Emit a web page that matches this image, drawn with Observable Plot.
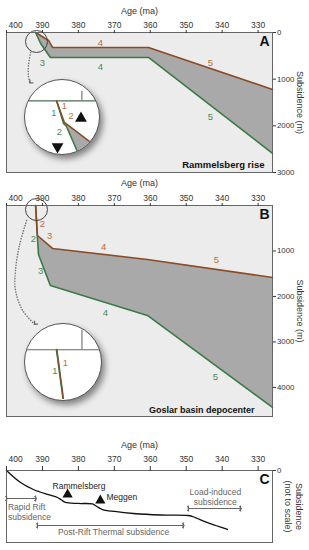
<!DOCTYPE html>
<html><head><meta charset="utf-8">
<script src="https://cdn.jsdelivr.net/npm/d3@7"></script>
<script src="https://cdn.jsdelivr.net/npm/@observablehq/plot@0.6"></script>
<style>
html,body{margin:0;padding:0;background:#fff;}
#root{position:relative;width:309px;height:550px;overflow:hidden;font-family:"Liberation Sans",Arial,sans-serif;}
.inset{position:absolute;box-sizing:border-box;border-radius:50%;overflow:hidden;border:1px solid #555;background:#fff;box-shadow:3px 4px 6px rgba(0,0,0,0.45);}
</style></head><body><div id="root"></div>
<script>
// ---------- shared ----------
const ageTitle = "Age (ma)";
const depthTitle = "Subsidence (m)";
const ageFirstTick = [400];
const ageTicks = [390, 380, 370, 360, 350, 340, 330];
const ageDomain = [400, 326];

// ---------- Panel A : Rammelsberg rise ----------
const aTopAge   = [391.9, 388.3, 387.2, 360.5, 326];
const aTopDepth = [0, 171, 321, 321, 1220];
const aBaseAge   = [391.9, 390.5, 387.8, 360.5, 326];
const aBaseDepth = [0, 235, 535, 535, 2590];
const aDepthTicks = [0, 1000, 2000, 3000];
const aTopLabAge = [373.9, 343.3], aTopLabDepth = [214, 642], aTopLabText = ["4", "5"];
const aBaseLabAge = [390.0, 373.9, 343.3], aBaseLabDepth = [642, 728, 1820], aBaseLabText = ["3", "4", "5"];
const aMarkAge = [391.65], aMarkDepth = [193];
const aArrowAge = [393.3, 393.9, 393.9, 393.5], aArrowDepth = [428, 707, 921, 1080];
const aName = "Rammelsberg rise";

// inset A (magnified start)
const iaTopAge = [392, 391.14, 388.44, 386.93], iaTopDepth = [0, 232, 432, 547];
const iaBaseAge = [392, 391.24, 390.92, 389.5], iaBaseDepth = [0, 242, 274, 590];
const iaLabAge = [391.14, 390.4, 392.3, 391.7], iaLabDepth = [53, 158, 126, 337];
const iaLabText = ["1", "2", "1", "2"], iaLabSeries = ["top", "top", "base", "base"];
const iaTriAge = [389.3, 391.9], iaTriDepth = [189, 495], iaTriRot = [0, 180];
const iaTickAge = [389.2], iaTickTop = [-105];

// ---------- Panel B : Goslar basin depocenter ----------
const bTopAge   = [391.9, 391.4, 387.2, 360.8, 326];
const bTopDepth = [0, 660, 945, 1187, 1582];
const bBaseAge   = [391.9, 391.4, 391.1, 387.8, 360.8, 326];
const bBaseDepth = [0, 703, 1077, 1758, 2418, 4440];
const bDepthTicks = [1000, 2000, 3000, 4000];
const bTopLabAge = [390.0, 388.0, 373.0, 341.6], bTopLabDepth = [396, 659, 901, 1187], bTopLabText = ["2", "3", "4", "5"];
const bBaseLabAge = [392.5, 390.5, 372.5, 341.9], bBaseLabDepth = [725, 1429, 2352, 3780], bBaseLabText = ["2", "3", "4", "5"];
const bMarkAge = [391.65], bMarkDepth = [88];
const bArrowAge = [394.4, 396.4, 397.5, 397.5, 395.5, 392.2], bArrowDepth = [330, 879, 1429, 1868, 2308, 2610];
const bName = "Goslar basin depocenter";

// inset B
const ibAge = [392, 391.78, 391.57, 391.35, 391.24], ibDepth = [0, 158, 316, 474, 579];
const ibLabAge = [391.03, 392.2], ibLabDepth = [147, 232], ibLabText = ["1", "1"], ibLabSeries = ["top", "base"];
const ibTickAge = [389.2], ibTickTop = [-210];

// ---------- Panel C : schematic ----------
const cAge = [400, 396.1, 392.5, 388.6, 385.8, 384.7, 383.6, 380.0, 376.1, 374.9, 373.3, 369.9, 364.7, 357.2, 349.4, 347.5, 344.6, 341.8, 338.5];
const cSub = [0, 16.7, 26.4, 33.3, 37.5, 41.0, 44.4, 45.8, 46.5, 50.0, 54.2, 56.9, 59.7, 61.8, 62.5, 65.3, 71.5, 76.4, 81.9];
const intStart = [400, 391.4, 349.4];
const intEnd   = [391.9, 350.8, 334.9];
const intLevel = [38.9, 76.4, 52.8];
const leftNoteText = ["Rapid Rift", "subsidence"], leftNoteAge = [399.6, 399.6], leftNoteSub = [50.5, 64.5];
const midNoteText = ["Post-Rift Thermal subsidence", "Load-induced", "subsidence"];
const midNoteAge = [370.2, 341.9, 341.9], midNoteSub = [86.1, 30.0, 43.5];
const eventName = ["Rammelsberg", "Meggen"];
const eventLabAge = [387.2, 372.2], eventLabSub = [22.2, 37.5];
const eventAge = [383.0, 373.9], eventSub = [33.3, 41.7];
const cTicks = [0];
const cTitle1 = "Subsidence", cTitle2 = "(not to scale)";

// ---------- style ----------
const FONT = '"Liberation Sans", Arial, sans-serif';
const BROWN = "#8a4b25", GREEN = "#3b7a46", BROWN_T = "#b8703c", GREEN_T = "#4a8a5a";
const FILL = "#a9a9a9", BG = "#ececec", FRAME = "#666", DOT = "#777";

const pts = (xs, ys, extra) => xs.map((x, i) => Object.assign({x, y: ys[i]}, extra ? extra(i) : {}));
const baseStyle = {fontFamily: FONT, background: "transparent", color: "#333", overflow: "visible"};
// open "L"-shaped arrow head like the reference
const headSymbol = {draw(ctx, size) { const r = Math.sqrt(size / Math.PI); ctx.moveTo(0, -r); ctx.lineTo(0, 0); ctx.lineTo(r, 0); }};

function topAxis(tickSize, tickPadding, titleDy) {
  return [
    Plot.axisX({anchor: "top", ticks: [...ageFirstTick, ...ageTicks], tickSize, tickPadding, label: null, fontSize: 8.5,
      tickFormat: d => ageFirstTick.includes(d) ? "" : String(d)}),
    Plot.text(ageFirstTick, {x: d => d, frameAnchor: "top", dy: -(tickSize + tickPadding), lineAnchor: "bottom",
      textAnchor: "start", dx: 2, text: d => String(d), fontSize: 8.5, fill: "#333"}),
    Plot.text([ageTitle], {frameAnchor: "top", lineAnchor: "middle", textAnchor: "middle", dy: titleDy, fontSize: 9, fill: "#333"})
  ];
}
function rightAxis(ticks, titleDx) {
  return [
    Plot.axisY({anchor: "right", ticks, tickSize: 3, tickPadding: 1.5, label: null, fontSize: 7.8, tickFormat: d => String(d)}),
    Plot.text([depthTitle], {frameAnchor: "right", rotate: 90, dx: titleDx, fontSize: 9, textAnchor: "middle", lineAnchor: "middle", fill: "#333"})
  ];
}
function profileMarks(topAge, topDepth, baseAge, baseDepth, topLab, baseLab, mark, arrow) {
  const poly = [...pts(topAge, topDepth), ...pts(baseAge, baseDepth).reverse()];
  return [
    Plot.frame({fill: BG, stroke: "none"}),
    Plot.line(poly, {x: "x", y: "y", fill: FILL, stroke: "none"}),
    Plot.line(pts(baseAge, baseDepth), {x: "x", y: "y", stroke: GREEN, strokeWidth: 1.6}),
    Plot.line(pts(topAge, topDepth), {x: "x", y: "y", stroke: BROWN, strokeWidth: 1.6}),
    Plot.text(topLab, {x: "x", y: "y", text: "t", fill: BROWN_T, fontSize: 9.5}),
    Plot.text(baseLab, {x: "x", y: "y", text: "t", fill: GREEN_T, fontSize: 9.5}),
    Plot.dot(mark, {x: "x", y: "y", r: 11, stroke: "#444", fill: "none", strokeWidth: 1}),
    Plot.line(arrow, {x: "x", y: "y", curve: "catmull-rom", stroke: DOT, strokeWidth: 1.6, strokeDasharray: "0.1,2.6", strokeLinecap: "round"}),
    Plot.dot(arrow.slice(-1), {x: "x", y: "y", symbol: headSymbol, r: 3.5, stroke: "#666", fill: "none", strokeWidth: 1.2})
  ];
}

const root = document.getElementById("root");
function place(el, left, top) { el.style.position = "absolute"; el.style.left = left + "px"; el.style.top = top + "px"; root.appendChild(el); }

// ---------- Panel A ----------
const plotA = Plot.plot({
  width: 309, height: 176, marginLeft: 6, marginRight: 37, marginTop: 32, marginBottom: 4,
  x: {domain: ageDomain}, y: {domain: [0, 3000], reverse: true}, style: baseStyle,
  marks: [
    ...profileMarks(aTopAge, aTopDepth, aBaseAge, aBaseDepth,
      pts(aTopLabAge, aTopLabDepth, i => ({t: aTopLabText[i]})),
      pts(aBaseLabAge, aBaseLabDepth, i => ({t: aBaseLabText[i]})),
      pts(aMarkAge, aMarkDepth), pts(aArrowAge, aArrowDepth)),
    Plot.text(["A"], {frameAnchor: "top-right", dx: -3, dy: 4, fontWeight: "bold", fontSize: 14, fill: "#111"}),
    Plot.text([aName], {frameAnchor: "bottom-right", dx: -8, dy: -5, fontWeight: "bold", fontSize: 9.5, fill: "#111"}),
    Plot.frame({stroke: FRAME}),
    ...topAxis(3, 2, -21),
    ...rightAxis(aDepthTicks, 27)
  ]
});
place(plotA, 0, 0);

// ---------- Panel B ----------
const plotB = Plot.plot({
  width: 309, height: 244, marginLeft: 6, marginRight: 37, marginTop: 29, marginBottom: 4,
  x: {domain: ageDomain}, y: {domain: [0, 4640], reverse: true}, style: baseStyle,
  marks: [
    ...profileMarks(bTopAge, bTopDepth, bBaseAge, bBaseDepth,
      pts(bTopLabAge, bTopLabDepth, i => ({t: bTopLabText[i]})),
      pts(bBaseLabAge, bBaseLabDepth, i => ({t: bBaseLabText[i]})),
      pts(bMarkAge, bMarkDepth), pts(bArrowAge, bArrowDepth)),
    Plot.text(["B"], {frameAnchor: "top-right", dx: -3, dy: 4, fontWeight: "bold", fontSize: 14, fill: "#111"}),
    Plot.text([bName], {frameAnchor: "bottom-right", dx: -18, dy: -4, fontWeight: "bold", fontSize: 9, fill: "#111"}),
    Plot.frame({stroke: FRAME}),
    ...topAxis(3, 2, -22),
    ...rightAxis(bDepthTicks, 27)
  ]
});
place(plotB, 0, 176);

// ---------- Insets ----------
function inset(left, top, size, xDomain, yDomain, marks) {
  const div = document.createElement("div");
  div.className = "inset";
  div.style.left = left + "px"; div.style.top = top + "px";
  div.style.width = size + "px"; div.style.height = size + "px";
  const p = Plot.plot({width: size, height: size, margin: 0,
    x: {domain: xDomain, axis: null}, y: {domain: yDomain, reverse: true, axis: null},
    style: {fontFamily: FONT, background: "transparent"}, marks});
  p.style.position = "absolute"; p.style.left = "-1px"; p.style.top = "-1px";
  div.appendChild(p);
  root.appendChild(div);
}
const iaPoly = [...pts(iaTopAge, iaTopDepth), ...pts(iaBaseAge, iaBaseDepth).reverse()];
inset(24, 79, 76, [395.56, 387.36], [-232, 568], [
  Plot.line(iaPoly, {x: "x", y: "y", fill: FILL, stroke: "none"}),
  Plot.ruleY([0], {stroke: "#4d6b55", strokeWidth: 1.2}),
  Plot.ruleX(pts(iaTickAge, iaTickTop), {x: "x", y1: "y", y2: 0, stroke: "#777", strokeWidth: 1.2}),
  Plot.line(pts(iaBaseAge, iaBaseDepth), {x: "x", y: "y", stroke: GREEN, strokeWidth: 1.6}),
  Plot.line(pts(iaTopAge, iaTopDepth), {x: "x", y: "y", stroke: BROWN, strokeWidth: 1.6}),
  Plot.text(pts(iaLabAge, iaLabDepth, i => ({t: iaLabText[i], s: iaLabSeries[i]})),
    {x: "x", y: "y", text: "t", fill: d => d.s === "top" ? BROWN_T : GREEN_T, fontSize: 9.5}),
  Plot.dot(pts(iaTriAge, iaTriDepth, i => ({r: iaTriRot[i]})), {x: "x", y: "y", symbol: "triangle", r: 4.5, fill: "#111", stroke: "none", rotate: "r"})
]);
inset(24, 323, 78, [395.56, 387.15], [-284, 537], [
  Plot.ruleY([0], {stroke: "#666", strokeWidth: 1.2}),
  Plot.ruleX(pts(ibTickAge, ibTickTop), {x: "x", y1: "y", y2: 0, stroke: "#777", strokeWidth: 1.2}),
  Plot.line(pts(ibAge, ibDepth), {x: "x", y: "y", curve: "catmull-rom", stroke: GREEN, strokeWidth: 2}),
  Plot.line(pts(ibAge, ibDepth), {x: "x", y: "y", curve: "catmull-rom", stroke: BROWN, strokeWidth: 1.2}),
  Plot.text(pts(ibLabAge, ibLabDepth, i => ({t: ibLabText[i], s: ibLabSeries[i]})),
    {x: "x", y: "y", text: "t", fill: d => d.s === "top" ? BROWN_T : GREEN_T, fontSize: 9.5})
]);

// ---------- Panel C ----------
const barSymbol = {draw(ctx, size) { const r = Math.sqrt(size / Math.PI); ctx.moveTo(0, -r); ctx.lineTo(0, r); }};
const intervals = intStart.map((a, i) => ({a, b: intEnd[i], y: intLevel[i]}));
const intEnds = intervals.flatMap(d => [{x: d.a, y: d.y}, {x: d.b, y: d.y}]);
const plotC = Plot.plot({
  width: 309, height: 130, marginLeft: 6, marginRight: 37, marginTop: 50, marginBottom: 8,
  x: {domain: ageDomain}, y: {domain: [0, 100], reverse: true}, style: baseStyle,
  marks: [
    Plot.line(pts(cAge, cSub), {x: "x", y: "y", curve: "catmull-rom", stroke: "#111", strokeWidth: 1.3}),
    Plot.link(intervals, {x1: "a", x2: "b", y1: "y", y2: "y", stroke: "#666", strokeWidth: 1, markerStart: "arrow", markerEnd: "arrow"}),
    Plot.dot(intEnds, {x: "x", y: "y", symbol: barSymbol, r: 3, stroke: "#666", fill: "none", strokeWidth: 1.2}),
    Plot.text(pts(leftNoteAge, leftNoteSub, i => ({t: leftNoteText[i]})), {x: "x", y: "y", text: "t", textAnchor: "start", fill: "#666", fontSize: 8.5}),
    Plot.text(pts(midNoteAge, midNoteSub, i => ({t: midNoteText[i]})), {x: "x", y: "y", text: "t", textAnchor: "middle", fill: "#666", fontSize: 8.5}),
    Plot.text(pts(eventLabAge, eventLabSub, i => ({t: eventName[i]})), {x: "x", y: "y", text: "t", textAnchor: "start", fill: "#222", fontSize: 8.5}),
    Plot.dot(pts(eventAge, eventSub), {x: "x", y: "y", symbol: "triangle", r: 3.8, fill: "#111", stroke: "none"}),
    Plot.text(["C"], {frameAnchor: "top-right", dx: -3, dy: 4, fontWeight: "bold", fontSize: 14, fill: "#111"}),
    Plot.frame({stroke: FRAME}),
    ...topAxis(5, 4, -25),
    Plot.axisY({anchor: "right", ticks: cTicks, tickSize: 3, tickPadding: 1.5, label: null, fontSize: 7.8, tickFormat: d => String(d)}),
    Plot.text([cTitle1], {frameAnchor: "right", rotate: 90, dx: 26, dy: 0, fontSize: 9, textAnchor: "middle", lineAnchor: "middle", fill: "#333"}),
    Plot.text([cTitle2], {frameAnchor: "right", rotate: 90, dx: 15, fontSize: 9, textAnchor: "middle", lineAnchor: "middle", fill: "#333"})
  ]
});
place(plotC, 0, 420);
</script></body></html>
